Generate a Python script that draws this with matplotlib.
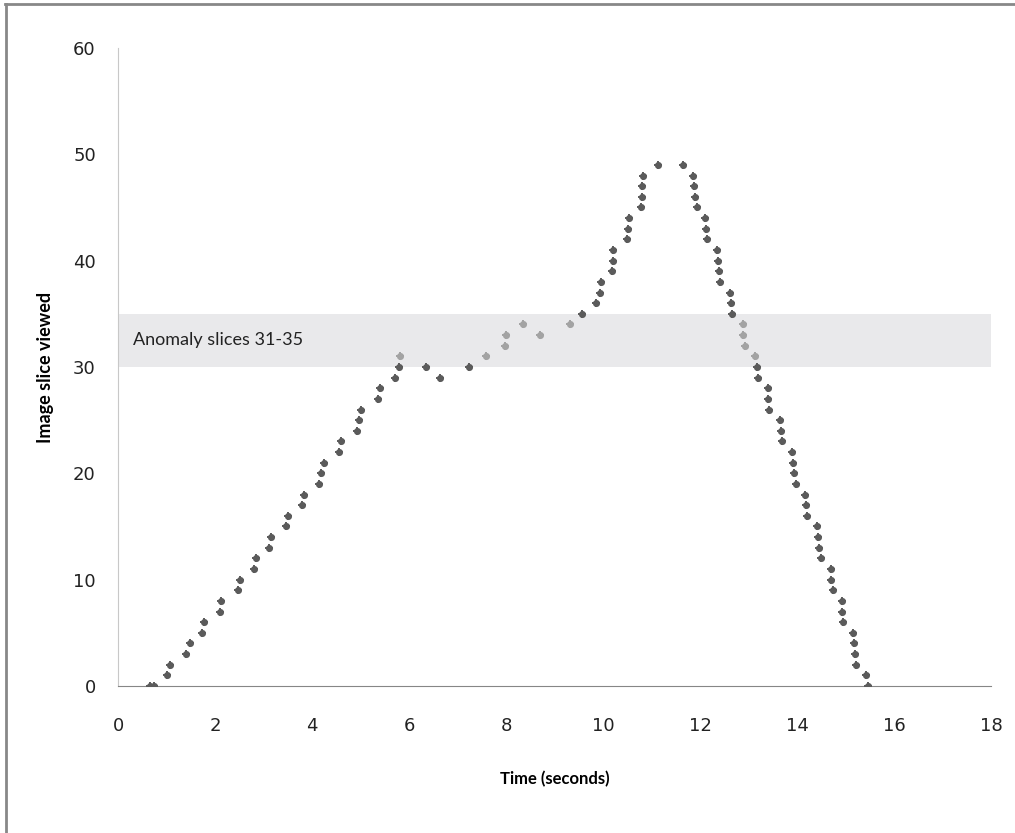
import matplotlib
matplotlib.use('Agg')
import matplotlib.pyplot as plt
import numpy as np
from matplotlib.lines import Line2D

# time (s) of each viewed slice
time_s = [0.65, 0.75, 1.01, 1.07, 1.40, 1.48, 1.73, 1.77, 2.10, 2.12,
          2.47, 2.51, 2.80, 2.84, 3.11, 3.15, 3.46, 3.50, 3.79, 3.83,
          4.14, 4.18, 4.24, 4.55, 4.59, 4.92, 4.96, 5.00, 5.37, 5.40,
          5.72, 5.79, 5.81, 6.36, 6.63, 7.23, 7.58, 7.97, 8.01, 8.36,
          8.71, 9.31, 9.56, 9.86, 9.93, 9.95, 10.19, 10.21, 10.21, 10.50,
          10.52, 10.54, 10.79, 10.81, 10.81, 10.83, 11.14, 11.66, 11.86, 11.88,
          11.90, 11.94, 12.11, 12.13, 12.15, 12.36, 12.38, 12.40, 12.42, 12.62,
          12.64, 12.66, 12.89, 12.89, 12.93, 13.14, 13.18, 13.20, 13.41, 13.41,
          13.43, 13.65, 13.67, 13.69, 13.90, 13.92, 13.94, 13.98, 14.17, 14.19,
          14.21, 14.42, 14.44, 14.46, 14.50, 14.70, 14.70, 14.74, 14.93, 14.93,
          14.95, 15.16, 15.18, 15.20, 15.22, 15.42, 15.47]
slice_no = [0, 0, 1, 2, 3, 4, 5, 6, 7, 8,
            9, 10, 11, 12, 13, 14, 15, 16, 17, 18,
            19, 20, 21, 22, 23, 24, 25, 26, 27, 28,
            29, 30, 31, 30, 29, 30, 31, 32, 33, 34,
            33, 34, 35, 36, 37, 38, 39, 40, 41, 42,
            43, 44, 45, 46, 47, 48, 49, 49, 48, 47,
            46, 45, 44, 43, 42, 41, 40, 39, 38, 37,
            36, 35, 34, 33, 32, 31, 30, 29, 28, 27,
            26, 25, 24, 23, 22, 21, 20, 19, 18, 17,
            16, 15, 14, 13, 12, 11, 10, 9, 8, 7,
            6, 5, 4, 3, 2, 1, 0]
anomaly_lo, anomaly_hi = 30, 35

t = np.array(time_s)
s = np.array(slice_no)
inside = (s >= 31) & (s <= 34)

fig = plt.figure(figsize=(10.15, 8.33), dpi=100)
ax = fig.add_axes([0.1163, 0.1765, 0.8600, 0.7659])

ax.axhspan(anomaly_lo, anomaly_hi, color='#e9e9eb', zorder=0, lw=0)
ax.text(0.31, 32.5, 'Anomaly slices 31-35', fontsize=13, family='Lato',
        va='center', ha='left', color='#222222')

for mask, col in [(~inside, '#5b5b5b'), (inside, '#a3a3a3')]:
    ax.scatter(t[mask], s[mask], marker='o', s=26, color=col, lw=0, zorder=3)
    ax.scatter(t[mask], s[mask], marker='+', s=40, color=col, lw=1.4, zorder=3)

ax.set_xlim(0, 18)
ax.set_ylim(0, 60)
ax.set_xticks(range(0, 19, 2))
ax.set_yticks(range(0, 61, 10))
for side in ['top', 'right']:
    ax.spines[side].set_visible(False)
ax.spines['left'].set_color('#c8c8c8')
ax.spines['bottom'].set_color('#868686')
ax.tick_params(length=0, labelsize=13, pad=22, colors='#222222')
ax.tick_params(axis='y', pad=16)
for lab in ax.get_xticklabels() + ax.get_yticklabels():
    lab.set_family('Liberation Sans Narrow')

ax.set_xlabel('Time (seconds)', fontsize=12, fontweight='bold', family='Lato', labelpad=26)
ax.set_ylabel('Image slice viewed', fontsize=13, fontweight='bold', family='Lato', labelpad=14)

# outer frame (only top and left edges visible)
fig.add_artist(Line2D([0.005, 1.0], [0.995, 0.995], transform=fig.transFigure, color='#888888', lw=2))
fig.add_artist(Line2D([0.006, 0.006], [0.0, 0.995], transform=fig.transFigure, color='#888888', lw=2))

fig.savefig('out.png', dpi=100)
